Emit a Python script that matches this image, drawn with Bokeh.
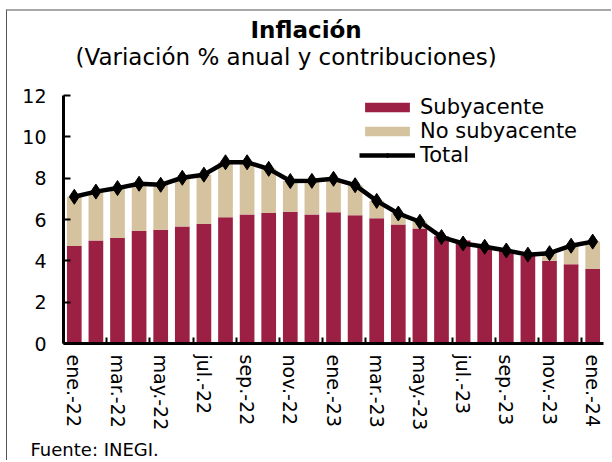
import numpy as np
from bokeh.plotting import figure
from bokeh.models import FixedTicker, Legend, LegendItem, Title, ColumnDataSource
from bokeh.embed import file_html
from bokeh.resources import INLINE

months = ["ene.-22", "feb.-22", "mar.-22", "abr.-22", "may.-22", "jun.-22", "jul.-22",
          "ago.-22", "sep.-22", "oct.-22", "nov.-22", "dic.-22", "ene.-23", "feb.-23",
          "mar.-23", "abr.-23", "may.-23", "jun.-23", "jul.-23", "ago.-23", "sep.-23",
          "oct.-23", "nov.-23", "dic.-23", "ene.-24"]
subyacente = [4.72, 4.98, 5.10, 5.44, 5.50, 5.66, 5.78, 6.11, 6.24, 6.32, 6.37, 6.24, 6.35,
              6.21, 6.06, 5.76, 5.57, 5.19, 4.98, 4.66, 4.48, 4.26, 4.00, 3.84, 3.60]
no_subyacente = [2.38, 2.37, 2.42, 2.29, 2.18, 2.36, 2.39, 2.66, 2.53, 2.13, 1.49, 1.63, 1.62,
                 1.45, 0.84, 0.53, 0.32, -0.04, -0.14, 0.02, 0.02, 0.04, 0.37, 0.89, 1.33]
total = [7.10, 7.35, 7.52, 7.73, 7.68, 8.02, 8.17, 8.77, 8.77, 8.45, 7.86, 7.87, 7.97,
         7.66, 6.90, 6.29, 5.89, 5.15, 4.84, 4.68, 4.50, 4.30, 4.37, 4.73, 4.93]
y_ticks = [0, 2, 4, 6, 8, 10, 12]

FONT = "DejaVu Sans"
RED = "#9B2043"
BEIGE = "#D5C29E"

x = np.arange(len(months))
core = np.array(subyacente)
nc = np.array(no_subyacente)
nc_bottom = np.where(nc >= 0, core, 0.0)
nc_top = np.where(nc >= 0, core + nc, nc)

src = ColumnDataSource(dict(x=x, core=core, nc_bottom=nc_bottom, nc_top=nc_top,
                            total=np.array(total)))

p = figure(width=605, height=451, x_range=(-0.5, 24.5), y_range=(0, 12),
           output_backend="svg", toolbar_location=None,
           min_border_left=56, min_border_right=9, min_border_top=84, min_border_bottom=117)
p.styles = {"margin-left": "6px", "margin-top": "9px",
            "border-left": "1px solid #555555", "border-top": "2px solid #a8a8a8"}
p.outline_line_color = None
p.xgrid.visible = False
p.ygrid.visible = False

r_core = p.vbar(x="x", top="core", bottom=0, width=0.68, source=src,
                fill_color=RED, line_color=None)
r_nc = p.vbar(x="x", top="nc_top", bottom="nc_bottom", width=0.68, source=src,
              fill_color=BEIGE, line_color=None)
r_line = p.line(x="x", y="total", source=src, line_color="black", line_width=4.5)
r_pts = p.scatter(x="x", y="total", source=src, marker="diamond", size=15,
                  fill_color="black", line_color="black")

# axes
xa = p.xaxis[0]
xa.ticker = FixedTicker(ticks=list(range(0, len(months), 2)),
                        minor_ticks=[i + 0.5 for i in range(-1, len(months), 2)])
xa.major_label_overrides = {i: months[i] for i in range(0, len(months), 2)}
xa.major_label_orientation = "vertical"
xa.major_tick_in = 0
xa.major_tick_out = 0
xa.minor_tick_in = 6
xa.minor_tick_out = 0
xa.minor_tick_line_color = "black"
xa.minor_tick_line_width = 2
xa.axis_line_color = "black"
xa.axis_line_width = 3
xa.major_label_text_font = FONT
xa.major_label_text_font_size = "19px"
xa.major_label_text_color = "black"
xa.major_label_standoff = 11

ya = p.yaxis[0]
ya.ticker = FixedTicker(ticks=y_ticks)
ya.major_tick_in = 7
ya.major_tick_out = 0
ya.major_tick_line_width = 2
ya.major_tick_line_color = "black"
ya.minor_tick_line_color = None
ya.axis_line_color = "black"
ya.axis_line_width = 3
ya.major_label_text_font = FONT
ya.major_label_text_font_size = "19px"
ya.major_label_text_color = "black"
ya.major_label_standoff = 17

legend = Legend(items=[
    LegendItem(label="Subyacente", renderers=[r_core]),
    LegendItem(label="No subyacente", renderers=[r_nc]),
    LegendItem(label="Total", renderers=[r_line, r_pts]),
], location=(296, 176))
legend.background_fill_alpha = 0
legend.border_line_color = None
legend.glyph_width = 56
legend.glyph_height = 12
legend.label_height = 22
legend.spacing = -6
legend.padding = 2
legend.margin = 0
legend.label_standoff = 5
legend.label_text_font = FONT
legend.label_text_font_size = "21px"
legend.label_text_color = "black"
legend.label_text_baseline = "middle"
p.add_layout(legend)

# titles (first added sits closest to the frame)
spacer = Title(text=" ", text_font_size="1px", standoff=24)
sub = Title(text="(Variación % anual y contribuciones)", align="left", offset=12,
            text_font=FONT, text_font_size="23px", text_font_style="normal",
            text_color="black", standoff=-2)
ttl = Title(text="Inflación", align="left", offset=187, text_font=FONT,
            text_font_size="23px", text_font_style="bold", text_color="black", standoff=0)
p.add_layout(spacer, "above")
p.add_layout(sub, "above")
p.add_layout(ttl, "above")

foot = Title(text="Fuente: INEGI.", align="left", offset=-33, text_font=FONT,
             text_font_size="18px", text_font_style="normal", text_color="black", standoff=6)
p.add_layout(foot, "below")

open("out.html", "w").write(file_html(p, INLINE))
